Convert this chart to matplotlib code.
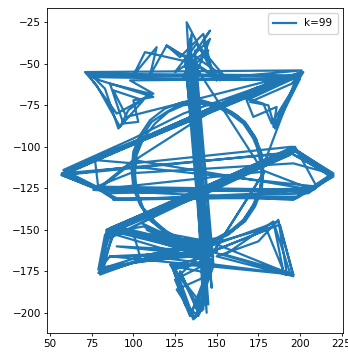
import matplotlib
matplotlib.use("Agg")
import matplotlib.pyplot as plt

# --- path segments (data coordinates) ---
top_x = [150, 132, 134, 135, 131, 146, 142, 148, 142, 128, 120, 138, 107, 100, 114, 110, 120, 150, 140, 155, 136, 130, 145, 125, 138, 152, 133, 146, 136]
top_y = [-60, -25, -60, -32, -52, -30, -36, -58, -32, -46, -39, -50, -43, -57, -40, -57, -39, -58, -40, -58, -45, -58, -42, -55, -38, -60, -48, -35, -60]

upper_x = [201, 71, 78, 92, 97, 110, 86, 94, 103, 100, 112, 80, 72, 200, 184, 186, 172, 168, 198, 75, 83, 91, 106, 88, 96, 202, 183, 178, 165, 190, 74, 90, 112, 98, 200, 185, 181, 170, 195]
upper_y = [-54, -55, -63, -88, -78, -68, -62, -86, -85, -72, -70, -60, -56, -57, -88, -76, -82, -72, -58, -57, -65, -89, -72, -66, -82, -55, -86, -74, -70, -60, -58, -80, -68, -60, -59, -89, -75, -73, -62]

mid_x = [200, 57, 78, 89, 205, 220, 195, 100, 77, 79, 100, 178, 208, 78, 98, 196, 218, 198, 58, 180, 199, 60, 80, 104, 160, 196, 58, 100, 130, 201, 60, 90, 198, 220, 193, 85, 196, 220, 209, 85, 57, 100, 210, 197, 84, 140, 195, 218, 196, 76]
mid_y = [-56, -116, -125, -132, -128, -117, -100, -110, -108, -125, -108, -121, -126, -124, -116, -110, -116, -103, -117, -62, -56, -115, -125, -106, -70, -58, -114, -95, -80, -55, -116, -131, -131, -118, -103, -151, -101, -116, -125, -128, -117, -112, -124, -100, -150, -130, -104, -117, -132, -126]

circ1_x = [178, 177, 173, 167, 159, 149, 139, 129, 120, 111, 105, 101, 100, 101, 105, 111, 120, 129, 139, 149, 159, 167, 173, 177, 178]
circ1_y = [-115, -104, -94, -85, -79, -74, -73, -74, -79, -85, -94, -104, -115, -126, -136, -145, -151, -156, -157, -156, -151, -145, -136, -126, -115]

vert_x = [133, 145, 134, 147, 136, 144, 131, 146, 135, 143, 137, 148, 132, 145, 134, 142, 138, 147]
vert_y = [-45, -195, -40, -185, -50, -200, -45, -175, -55, -190, -42, -170, -58, -180, -35, -198, -60, -165]

circ2_x = [178, 176, 172, 166, 158, 150, 140, 130, 121, 113, 106, 102, 101, 102, 106, 113, 121, 130, 140, 150, 159, 166, 172, 176, 178]
circ2_y = [-116, -105, -95, -86, -80, -76, -74, -75, -79, -86, -95, -105, -116, -127, -137, -145, -152, -156, -157, -155, -150, -144, -135, -125, -116]

bot_x = [147, 123, 136, 140, 128, 138, 145, 125, 134, 147, 124, 131, 139, 144, 126, 137, 148, 122, 142, 146, 127, 135, 145, 124, 141, 146]
bot_y = [-165, -172, -204, -200, -175, -198, -170, -180, -202, -168, -174, -195, -202, -178, -186, -203, -172, -171, -196, -160, -178, -200, -176, -172, -199, -162]

lr_x = [146, 187, 196, 191, 180, 150, 185, 194, 155, 184, 190, 148, 188, 196, 150, 175, 187, 192, 146]
lr_y = [-160, -145, -177, -177, -150, -162, -148, -176, -165, -145, -175, -158, -147, -178, -166, -157, -144, -176, -163]

ll_x = [146, 84, 80, 79, 104, 148, 90, 81, 86, 196, 110, 80, 85, 106, 144, 100, 104, 146, 88, 82, 100, 150, 86, 196, 83, 79, 108, 145,
        85, 81, 80, 110, 147, 87, 80, 105, 146]
ll_y = [-163, -150, -175, -176, -168, -162, -148, -172, -166, -177, -166, -177, -152, -148, -166, -152, -166, -158, -150, -174, -170, -163, -149, -102, -153, -174, -165, -160,
        -151, -170, -176, -167, -163, -149, -173, -169, -165]

lowmid_x = [100, 146, 105, 145, 86, 150, 90, 148, 88, 150, 108, 147]
lowmid_y = [-152, -168, -146, -165, -166, -163, -160, -166, -151, -158, -150, -170]

diag_low_x = [86, 195, 88, 197, 84, 194, 90, 196, 86, 192]
diag_low_y = [-152, -103, -150, -101, -153, -105, -148, -100, -155, -104]

diag_up_x = [58, 199, 59, 185, 57, 201, 62, 175, 58, 198]
diag_up_y = [-116, -57, -115, -60, -117, -55, -114, -64, -116, -58]

circ3_x = [177, 175, 174, 168, 162, 151, 141, 130, 119, 110, 104, 100, 99, 100, 104, 110, 118, 128, 138, 148, 157, 165, 171, 176, 177]
circ3_y = [-114, -103, -96, -87, -81, -75, -72, -73, -77, -84, -93, -103, -114, -125, -135, -144, -151, -156, -158, -157, -153, -146, -137, -127, -114]

horiz_x = [208, 79, 57, 79, 205, 220, 196, 218, 198, 88, 180, 209]
horiz_y = [-126, -125, -117, -126, -127, -117, -102, -118, -130, -132, -128, -125]

order = [(top_x, top_y), (upper_x, upper_y), (mid_x, mid_y), (circ1_x, circ1_y),
         (vert_x, vert_y), (circ2_x, circ2_y), (bot_x, bot_y), (lr_x, lr_y),
         (ll_x, ll_y), (lowmid_x, lowmid_y), (diag_low_x, diag_low_y),
         (diag_up_x, diag_up_y), (circ3_x, circ3_y), (horiz_x, horiz_y)]
path_x = [v for sx, sy in order for v in sx]
path_y = [v for sx, sy in order for v in sy]

legend_label = "k=99"
x_ticks = [50, 75, 100, 125, 150, 175, 200, 225]
y_ticks = [-25, -50, -75, -100, -125, -150, -175, -200]

fig = plt.figure(figsize=(3.48, 3.56), dpi=100)
ax = fig.add_axes([47/348, 23/356, 296/348, 325/356])
ax.plot(path_x, path_y, color="#1f77b4", linewidth=1.6, label=legend_label)
ax.set_xlim(48.2, 225.8)
ax.set_ylim(-212.2, -16.4)
ax.set_xticks(x_ticks)
ax.set_yticks(y_ticks)
ax.tick_params(labelsize=7.5, length=2.5, width=0.6, pad=2)
for s in ax.spines.values():
    s.set_linewidth(0.6)
ax.legend(loc="upper right", fontsize=7.5, handlelength=2.2, borderpad=0.5)
fig.savefig("out.png", dpi=100)
